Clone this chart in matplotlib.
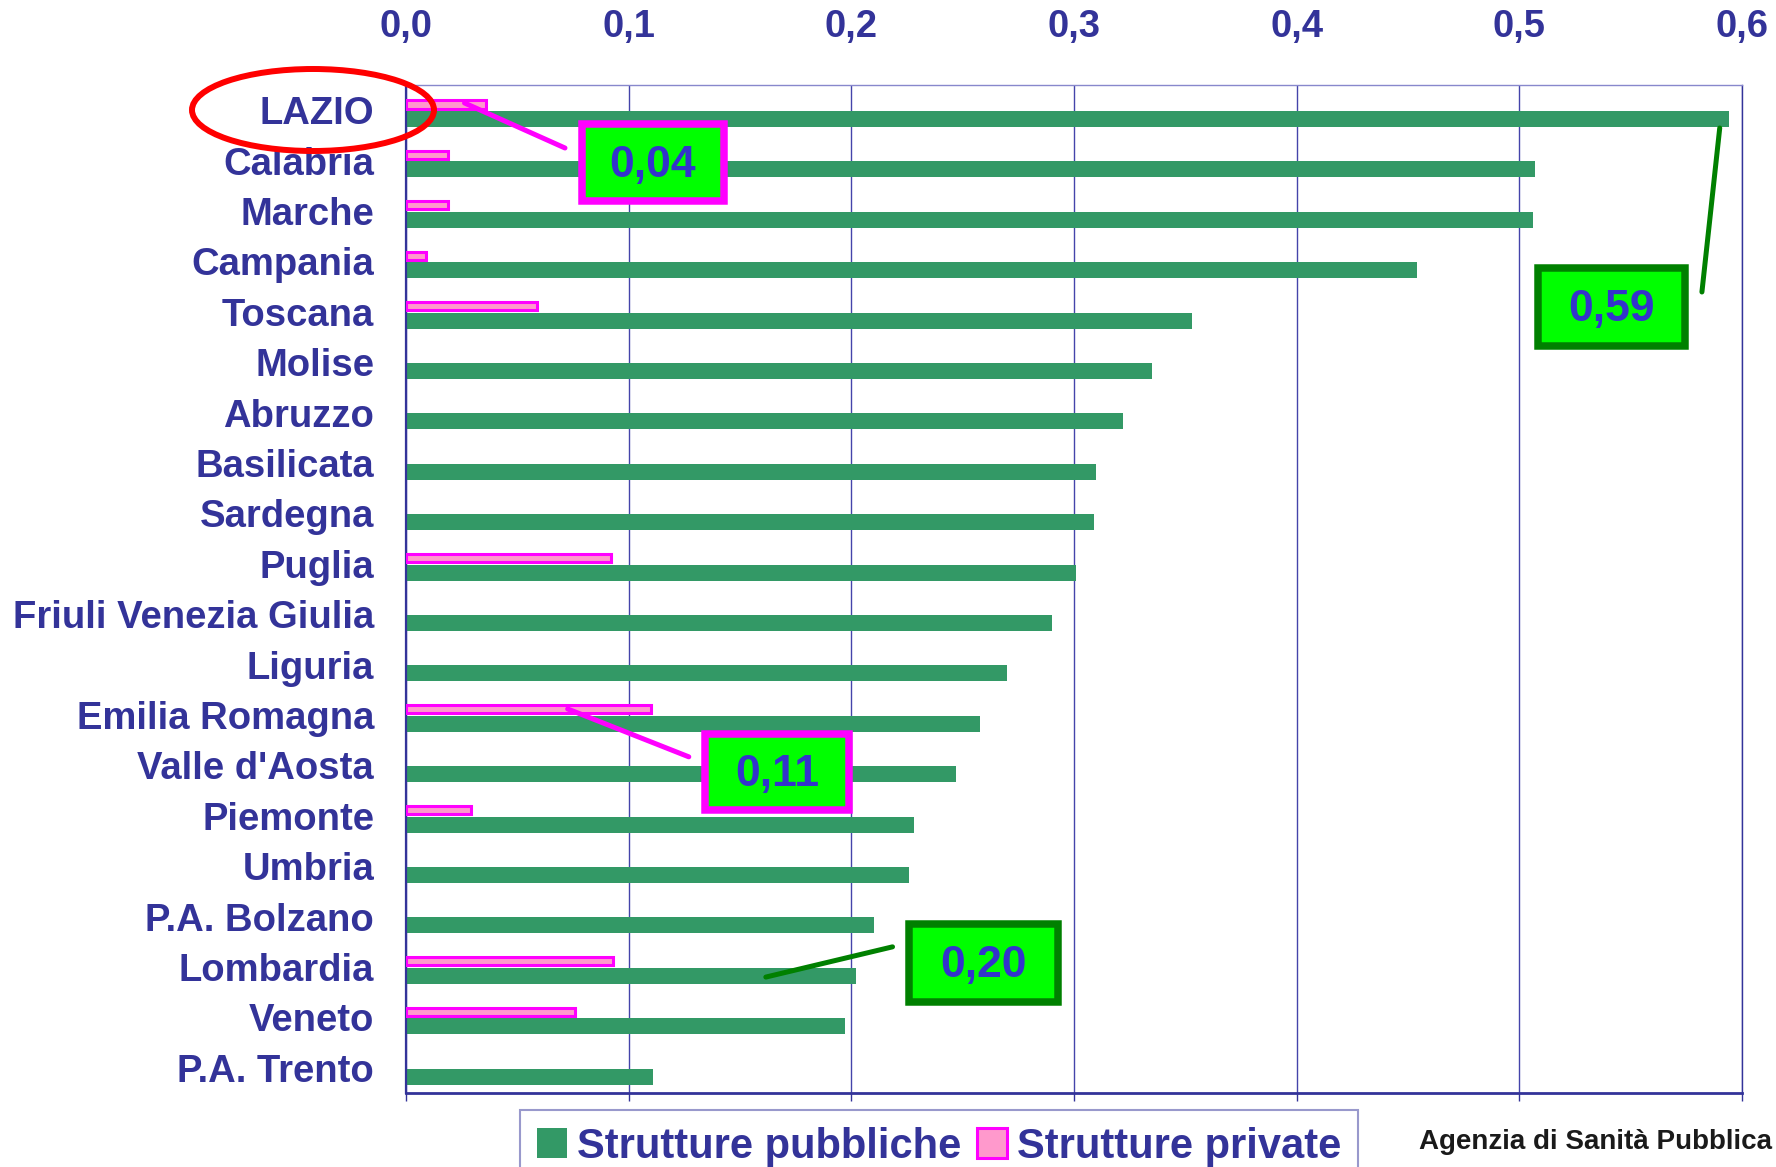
import numpy as np
import matplotlib
matplotlib.use("Agg")
import matplotlib.pyplot as plt
from matplotlib.patches import Rectangle, Ellipse

plt.rcParams['font.family'] = ['Liberation Sans', 'DejaVu Sans']
plt.rcParams['font.weight'] = 'bold'

# ---------------- data ----------------
regions = ["LAZIO", "Calabria", "Marche", "Campania", "Toscana", "Molise",
           "Abruzzo", "Basilicata", "Sardegna", "Puglia",
           "Friuli Venezia Giulia", "Liguria", "Emilia Romagna",
           "Valle d'Aosta", "Piemonte", "Umbria", "P.A. Bolzano",
           "Lombardia", "Veneto", "P.A. Trento"]
pubbliche = [0.594, 0.507, 0.506, 0.454, 0.353, 0.335, 0.322, 0.310, 0.309,
             0.301, 0.290, 0.270, 0.258, 0.247, 0.228, 0.226, 0.210, 0.202,
             0.197, 0.111]
private = [0.036, 0.019, 0.019, 0.009, 0.059, 0.0, 0.0, 0.0, 0.0, 0.092,
           0.0, 0.0, 0.110, 0.0, 0.029, 0.0, 0.0, 0.093, 0.076, 0.0]
xticks = [0.0, 0.1, 0.2, 0.3, 0.4, 0.5, 0.6]
xticklabels = ["0,0", "0,1", "0,2", "0,3", "0,4", "0,5", "0,6"]
series_names = ["Strutture pubbliche", "Strutture private"]

NAVY = '#333399'
GREEN = '#339966'
PINK = '#FF99CC'
MAGENTA = '#FF00FF'
LIME = '#00FF00'
DKGREEN = '#008000'
TXTBLUE = '#3333CC'

W, H = 1776, 1167
fig = plt.figure(figsize=(W / 100, H / 100), dpi=100)
ax = fig.add_axes([406 / W, 1 - 1093 / H, 1336 / W, 1008 / H])

y = np.arange(len(regions))
b1 = ax.barh(y + 0.175, pubbliche, height=0.317, color=GREEN, zorder=2,
             label=series_names[0])
lws = [2.2 if v > 0 else 0 for v in private]
b2 = ax.barh(y - 0.113, private, height=0.16, color=PINK, edgecolor=MAGENTA,
             linewidth=lws, zorder=3, label=series_names[1])

ax.set_xlim(0, 0.6)
ax.set_ylim(len(regions) - 0.5, -0.5)
ax.set_xticks(xticks)
ax.set_xticklabels(xticklabels)
ax.set_yticks(y)
ax.set_yticklabels(regions)

ax.xaxis.grid(True, color='#4444AA', lw=1.0)
ax.set_axisbelow(True)

ax.tick_params(axis='x', which='both', bottom=True, top=False,
               labelbottom=False, labeltop=True, direction='out',
               length=6, width=1, color=NAVY, pad=23, labelsize=27.5,
               labelcolor=NAVY)
ax.tick_params(axis='y', length=0, pad=23, labelsize=27.5, labelcolor=NAVY)

ax.spines['left'].set_color(NAVY)
ax.spines['left'].set_linewidth(1.6)
ax.spines['bottom'].set_color(NAVY)
ax.spines['bottom'].set_linewidth(2.0)
ax.spines['right'].set_color(NAVY)
ax.spines['right'].set_linewidth(1.0)
ax.spines['top'].set_color('#8888CC')
ax.spines['top'].set_linewidth(1.0)


def fmt(v):
    return f"{v:.2f}".replace('.', ',')


# annotations: (text, box x0, box x1, box y0, box y1, leader start, leader end, edge color)
annots = [
    (fmt(private[0]), 0.0789, 0.1429, 0.268, 1.807,
     (private[0] * 0.73, 0 - 0.143), (0.0714, 0.75), MAGENTA),
    (fmt(pubbliche[0]), 0.5082, 0.5744, 3.124, 4.686,
     (pubbliche[0] - 0.004, 0 + 0.353), (0.582, 3.607), DKGREEN),
    (fmt(private[12]), 0.1344, 0.1990, 12.374, 13.886,
     (private[12] * 0.66, 12 - 0.12), (0.127, 12.83), MAGENTA),
    (fmt(pubbliche[17]), 0.2258, 0.2929, 16.144, 17.696,
     (pubbliche[17] * 0.80, 17 + 0.2), (0.2185, 16.6), DKGREEN),
]
for txt, x0, x1, y0, y1, start, end, ec in annots:
    ax.annotate('', xy=start, xytext=end,
                arrowprops=dict(arrowstyle='-', color=ec, lw=3.6,
                                shrinkA=0, shrinkB=0),
                zorder=6, annotation_clip=False)
    ax.add_patch(Rectangle((x0, y0), x1 - x0, y1 - y0, facecolor=LIME,
                           edgecolor=ec, lw=5.4, zorder=7, clip_on=False))
    ax.text((x0 + x1) / 2, (y0 + y1) / 2 + 0.05, txt, ha='center',
            va='center', fontsize=32, color=TXTBLUE, fontweight='bold',
            zorder=8)

# red ellipse around LAZIO
fig.add_artist(Ellipse((313 / W, 1 - 110 / H), 242 / W, 82 / H,
                       transform=fig.transFigure, fill=False,
                       edgecolor='#FF0000', lw=4.3, zorder=10))

leg = fig.legend([b1, b2], series_names, loc='upper left',
                 bbox_to_anchor=(520 / W, 1 - 1110 / H), ncol=2, fontsize=30,
                 frameon=True, fancybox=False, edgecolor='#9999CC',
                 handlelength=0.72, handleheight=0.72, handletextpad=0.24,
                 columnspacing=0.38, borderpad=0.4, borderaxespad=0,
                 labelcolor=NAVY)
leg.get_frame().set_linewidth(1.5)
leg.get_frame().set_alpha(1)

fig.text(1772 / W, 1 - 1142 / H, "Agenzia di Sanità Pubblica",
         ha='right', va='center', fontsize=20, color='#1a1a1a',
         fontweight='bold')

fig.savefig('out.png', dpi=100)
